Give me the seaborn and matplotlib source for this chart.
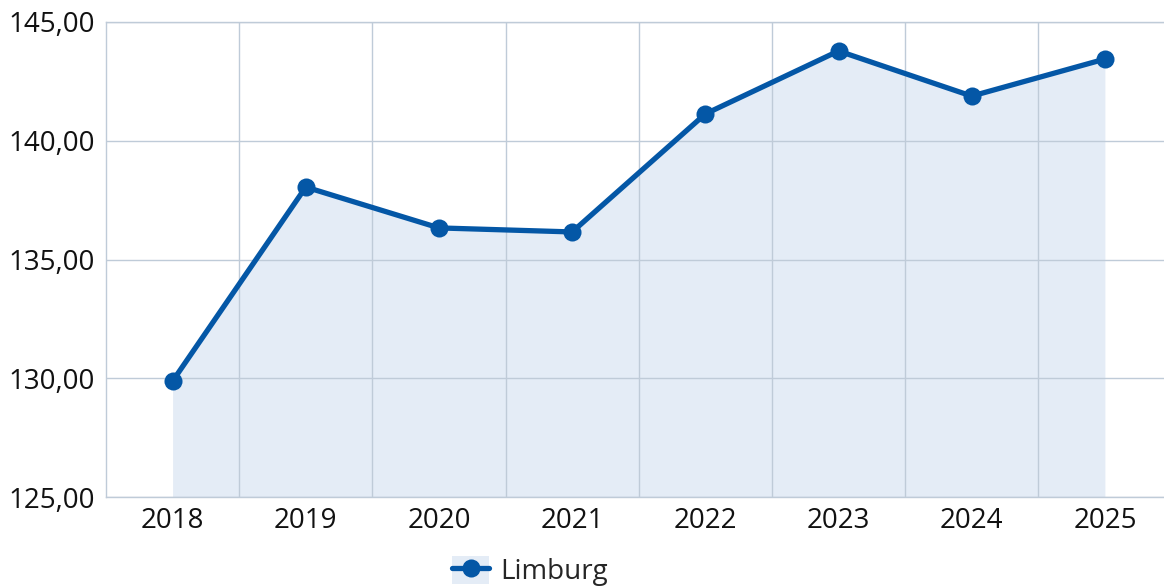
import numpy as np
import pandas as pd
import seaborn as sns
import matplotlib.pyplot as plt
from matplotlib.ticker import FuncFormatter, FixedLocator
from matplotlib.lines import Line2D
from matplotlib.patches import Patch
from matplotlib.legend_handler import HandlerTuple

# data
jaren = ['2018', '2019', '2020', '2021', '2022', '2023', '2024', '2025']
limburg = [129.88, 138.05, 136.33, 136.16, 141.13, 143.78, 141.88, 143.44]

df = pd.DataFrame({'jaar': jaren, 'waarde': limburg})
df['pos'] = np.arange(len(jaren))

sns.set_style('white')
plt.rcParams['font.family'] = ['Open Sans', 'DejaVu Sans']

lijn = '#0457a6'
vulling = '#e4ecf6'
raster = '#bfcbd8'

fig = plt.figure(figsize=(11.64, 5.86), dpi=100)
ax = fig.add_axes([106 / 1164, 1 - 497 / 586, 1065.5 / 1164, 475 / 586])

# vlak onder de lijn, onder het raster
ax.fill_between(df['pos'], 125, df['waarde'], color=vulling, lw=0, zorder=0.2)
sns.lineplot(data=df, x='pos', y='waarde', ax=ax, color=lijn, lw=3.8,
             marker='o', markersize=13, markeredgewidth=0, zorder=3)

ax.set_xlim(-0.5, len(jaren) - 0.5)
ax.set_ylim(125, 145)
ax.set_xticks(df['pos'])
ax.set_xticklabels(jaren)
ax.xaxis.set_minor_locator(FixedLocator(np.arange(0.5, len(jaren) - 1, 1)))
ax.set_yticks([125, 130, 135, 140, 145])
ax.yaxis.set_major_formatter(FuncFormatter(lambda v, p: f'{v:.2f}'.replace('.', ',')))

ax.set_axisbelow(True)
ax.grid(axis='y', which='major', color=raster, lw=1)
ax.grid(axis='x', which='minor', color=raster, lw=1)
ax.grid(axis='x', which='major', visible=False)

ax.spines['right'].set_visible(False)
for s in ['left', 'bottom', 'top']:
    ax.spines[s].set_color(raster)
    ax.spines[s].set_linewidth(1)

ax.tick_params(axis='both', which='both', length=0, labelsize=20, colors='#111111')
ax.tick_params(axis='x', pad=7)
ax.tick_params(axis='y', pad=8)
ax.set_xlabel('')
ax.set_ylabel('')

handle = (Patch(facecolor=vulling, edgecolor='none'),
          Line2D([], [], color=lijn, lw=3.8, marker='o', markersize=13, markeredgewidth=0))
fig.legend([handle], ['Limburg'], handler_map={tuple: HandlerTuple(ndivide=1)},
           loc='center', bbox_to_anchor=(530 / 1164, 1 - 571 / 586), frameon=False,
           fontsize=20, handlelength=1.35, handleheight=1.2, handletextpad=0.4)

fig.savefig('out.png', dpi=100)
